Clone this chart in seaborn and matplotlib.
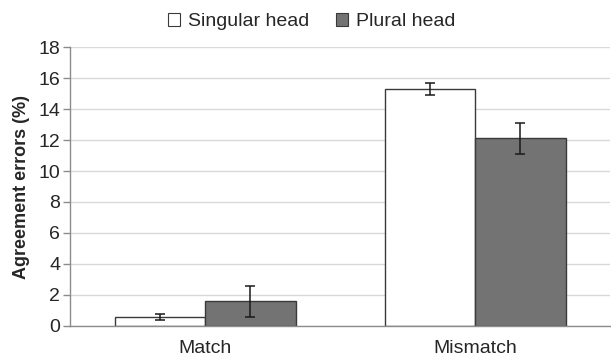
import matplotlib
matplotlib.use('Agg')
import matplotlib.pyplot as plt
import seaborn as sns
import pandas as pd
from matplotlib.patches import Patch

# Data
conditions = ['Match', 'Mismatch']
heads = ['Singular head', 'Plural head']
singular_means = [0.6, 15.3]
plural_means = [1.6, 12.1]
singular_err = [0.2, 0.4]
plural_err = [1.0, 1.0]
yticks = [0, 2, 4, 6, 8, 10, 12, 14, 16, 18]

colors = ['#ffffff', '#737373']
edge = '#3a3a3a'

df = pd.DataFrame({
    'condition': conditions * 2,
    'head': [heads[0]] * 2 + [heads[1]] * 2,
    'errors': singular_means + plural_means,
    'err': singular_err + plural_err,
})

sns.set_style('white')
plt.rcParams['font.family'] = ['Liberation Sans', 'DejaVu Sans']

fig = plt.figure(figsize=(6.11, 3.59), dpi=100)
ax = fig.add_axes([0.1146, 0.092, 0.884, 0.777])

sns.barplot(data=df, x='condition', y='errors', hue='head', order=conditions,
            hue_order=heads, palette=colors, edgecolor=edge, linewidth=1.0,
            width=0.67, gap=0, errorbar=None, legend=False, ax=ax, zorder=2)

# error bars at bar centres (patches come hue by hue)
for patch, (_, row) in zip(ax.patches, df.iterrows()):
    xc = patch.get_x() + patch.get_width() / 2
    ax.errorbar(xc, row['errors'], yerr=row['err'], fmt='none', ecolor='#1a1a1a',
                elinewidth=1.1, capsize=3.5, capthick=1.1, zorder=3)

ax.set_xlim(-0.5, 1.5)
ax.set_ylim(0, 18)
ax.set_yticks(yticks)
ax.yaxis.grid(True, color='#d9d9d9', linewidth=1.0, zorder=0)
ax.set_axisbelow(True)

ax.set_xticks([0, 1])
ax.set_xticklabels(conditions, fontsize=14)
ax.tick_params(axis='x', length=0, pad=10)
# minor ticks at category boundaries
ax.set_xticks([-0.5, 0.5, 1.5], minor=True)
ax.tick_params(axis='x', which='minor', length=5, color='#8c8c8c', width=1)
ax.tick_params(axis='y', length=5, color='#8c8c8c', width=1, labelsize=14,
               left=True, direction='out', pad=2)

for s in ['top', 'right']:
    ax.spines[s].set_visible(False)
for s in ['left', 'bottom']:
    ax.spines[s].set_color('#8c8c8c')
    ax.spines[s].set_linewidth(1.0)

ax.set_xlabel('')
ax.set_ylabel('Agreement errors (%)', fontsize=13, fontweight='bold', labelpad=6)

handles = [Patch(facecolor=c, edgecolor=edge, linewidth=0.8) for c in colors]
fig.legend(handles, heads, loc='upper center', bbox_to_anchor=(0.51, 1.012), ncol=2,
           frameon=False, fontsize=14, handlelength=0.6, handleheight=0.6,
           handletextpad=0.4, columnspacing=1.4)

fig.savefig('out.png', dpi=100)
